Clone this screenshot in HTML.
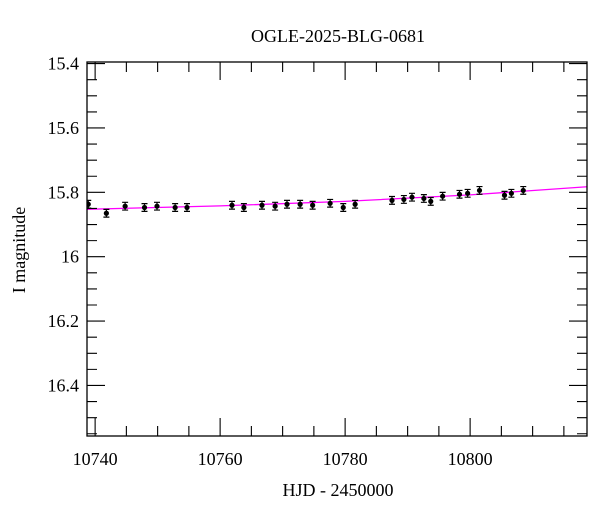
<!DOCTYPE html>
<html><head><meta charset="utf-8"><style>
body{margin:0;background:#fff;}
svg text{font-family:"Liberation Serif",serif;fill:#000;}
</style></head><body>
<svg id="chart" width="600" height="512" xmlns="http://www.w3.org/2000/svg">
<defs><clipPath id="pc"><rect x="87" y="62" width="500" height="374"/></clipPath></defs>
<text x="338" y="42" font-size="18" text-anchor="middle">OGLE-2025-BLG-0681</text>
<text x="0" y="0" font-size="18" text-anchor="middle" transform="translate(25,250) rotate(-90)">I magnitude</text>
<text x="338" y="496" font-size="18" text-anchor="middle">HJD - 2450000</text>
<g id="plot"></g>
</svg>
<script>
const times=[10738.9,10741.8,10744.8,10747.9,10749.9,10752.8,10754.7,10761.9,10763.8,10766.7,10768.8,10770.7,10772.8,10774.8,10777.6,10779.7,10781.6,10787.5,10789.4,10790.7,10792.6,10793.7,10795.6,10798.3,10799.6,10801.5,10805.5,10806.6,10808.5];
const mags=[15.837,15.865,15.843,15.847,15.843,15.847,15.847,15.840,15.847,15.840,15.843,15.837,15.837,15.840,15.834,15.847,15.837,15.825,15.822,15.815,15.819,15.828,15.812,15.806,15.803,15.794,15.809,15.803,15.794];
const errs=[0.012,0.012,0.012,0.012,0.012,0.012,0.012,0.012,0.012,0.012,0.012,0.012,0.012,0.012,0.012,0.012,0.012,0.012,0.012,0.012,0.012,0.012,0.012,0.012,0.012,0.012,0.012,0.012,0.012];
const modelT=[10738,10760,10780,10800,10820];
const modelM=[15.853,15.842,15.828,15.808,15.781];
const xTicks=[10740,10760,10780,10800];
const yTicks=[15.4,15.6,15.8,16,16.2,16.4];
const yTickLabels=["15.4","15.6","15.8","16","16.2","16.4"];

const L=87,R=587,T=62,B=436;
const X0=10738.7,X1=10818.7,Y0=15.395,Y1=16.557;
const sx=v=>L+(v-X0)/(X1-X0)*(R-L);
const sy=v=>T+(v-Y0)/(Y1-Y0)*(B-T);
const NS="http://www.w3.org/2000/svg";
const g=document.getElementById('plot');
function mk(tag,attrs){const e=document.createElementNS(NS,tag);for(const k in attrs)e.setAttribute(k,attrs[k]);g.appendChild(e);return e;}

let d='';
for(let i=0;i<modelT.length;i++){d+=(i?'L':'M')+sx(modelT[i]).toFixed(1)+','+sy(modelM[i]).toFixed(1);}
const ml=mk('path',{d:d,stroke:'#ff00ff','stroke-width':1.3,fill:'none','clip-path':'url(#pc)'});



for(let i=0;i<times.length;i++){
  const x=sx(times[i]),y=sy(mags[i]),y1=sy(mags[i]-errs[i]),y2=sy(mags[i]+errs[i]);
  const eb=mk('path',{d:`M${x},${y1}L${x},${y2}M${x-3},${y1}L${x+3},${y1}M${x-3},${y2}L${x+3},${y2}`,stroke:'#000','stroke-width':1.2,fill:'none','clip-path':'url(#pc)'});
  
  
  const c=mk('circle',{cx:x,cy:y,r:2.6,fill:'#000','clip-path':'url(#pc)'});
  
  
}

const fr=mk('rect',{x:L,y:T,width:R-L,height:B-T,fill:'none',stroke:'#000','stroke-width':1.3});



let td='';
for(let v=10740;v<=X1;v+=5){const x=sx(v);const len=(v%20===0)?18:10;td+=`M${x},${B}L${x},${B-len}M${x},${T}L${x},${T+len}`;}
for(let v=15.4;v<=Y1+1e-6;v+=0.05){const y=sy(v);const major=Math.abs(v*10-Math.round(v*10))<1e-6&&Math.round(v*10)%2===0;const len=major?18:10;td+=`M${L},${y}L${L+len},${y}M${R},${y}L${R-len},${y}`;}
const tk=mk('path',{d:td,stroke:'#000','stroke-width':1.1,fill:'none'});



xTicks.forEach(v=>{
  const t=mk('text',{x:sx(v),y:465,'font-size':18,'text-anchor':'middle'});
  t.textContent=String(v);
  
  
});
yTicks.forEach((v,i)=>{
  const t=mk('text',{x:79,y:sy(v)+6,'font-size':18,'text-anchor':'end'});
  t.textContent=yTickLabels[i];
  
  
});
</script>
</body></html>
